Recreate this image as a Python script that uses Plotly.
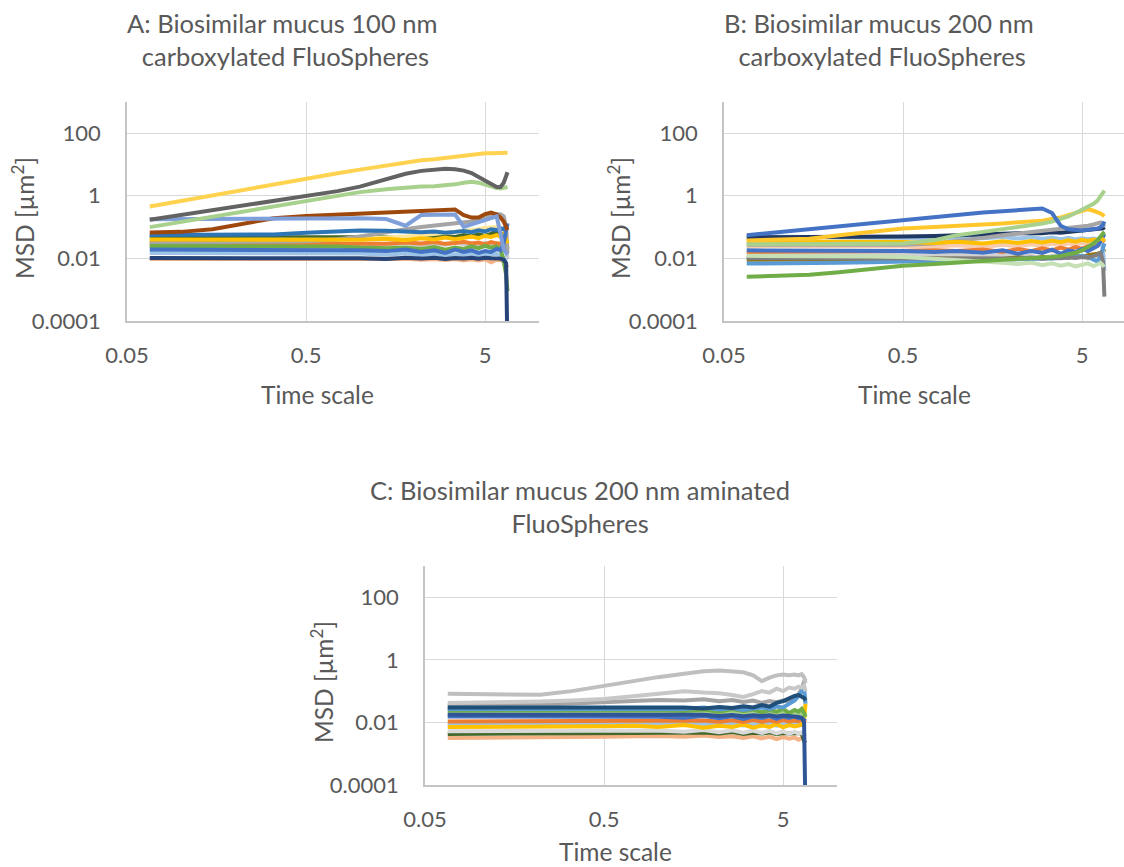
import plotly.graph_objects as go

# Lag times (s) shared by every trajectory
T = [0.067, 0.1, 0.15, 0.22, 0.33, 0.5, 0.75, 1.0, 1.4, 1.8, 2.2, 2.6,
     3.0, 3.4, 3.8, 4.2, 4.6, 5.0, 5.4, 5.8, 6.1, 6.35, 6.55, 6.67]

X_TICKS = [0.05, 0.5, 5]
X_TICK_TEXT = ["0.05", "0.5", "5"]
Y_TICKS = [0.0001, 0.01, 1, 100]
Y_TICK_TEXT = ["0.0001", "0.01", "1", "100"]

# ---- A: 100 nm carboxylated, MSD in um^2 ----
a_yellow = [0.45, 0.68, 1.05, 1.5, 2.3, 3.6, 5.2, 6.8, 9.2, 11.5, 13.5, 14.5, 16, 17.5, 19.5, 21, 22, 22.5, 22.5, 22.8, 23, 23, 23.2, 23.5]
a_darkgray = [0.17, 0.24, 0.35, 0.49, 0.70, 1.0, 1.4, 1.95, 3.4, 5.0, 6.2, 6.9, 7.2, 7.0, 6.3, 5.3, 4.0, 3.0, 2.3, 1.9, 1.9, 2.6, 4.2, 5.6]
a_lightgreen = [0.099, 0.146, 0.22, 0.31, 0.46, 0.68, 1.0, 1.3, 1.6, 1.85, 1.95, 2.0, 2.1, 2.3, 2.6, 2.8, 2.6, 2.2, 1.9, 1.75, 1.7, 1.75, 1.8, 1.9]
a_periwinkle = [0.177, 0.18, 0.18, 0.185, 0.185, 0.18, 0.19, 0.19, 0.18, 0.11, 0.24, 0.25, 0.26, 0.25, 0.1, 0.12, 0.14, 0.17, 0.2, 0.22, 0.06, 0.02, 0.015, 0.013]
a_brown = [0.067, 0.07, 0.085, 0.126, 0.19, 0.226, 0.25, 0.27, 0.29, 0.31, 0.32, 0.33, 0.35, 0.36, 0.24, 0.2, 0.2, 0.26, 0.29, 0.25, 0.2, 0.15, 0.1, 0.08]
a_steelblue = [0.056, 0.056, 0.056, 0.057, 0.058, 0.066, 0.075, 0.078, 0.076, 0.07, 0.068, 0.072, 0.066, 0.07, 0.075, 0.068, 0.078, 0.072, 0.085, 0.08, 0.09, 0.085, 0.1, 0.12]
a_gray = [0.032, 0.032, 0.033, 0.033, 0.034, 0.035, 0.04, 0.05, 0.065, 0.085, 0.1, 0.11, 0.12, 0.13, 0.14, 0.15, 0.18, 0.21, 0.24, 0.26, 0.25, 0.22, 0.1, 0.015]
a_darkgreen = [0.048, 0.048, 0.048, 0.048, 0.05, 0.05, 0.05, 0.048, 0.047, 0.045, 0.05, 0.046, 0.052, 0.048, 0.055, 0.05, 0.058, 0.052, 0.06, 0.075, 0.065, 0.05, 0.03, 0.02]
a_gold = [0.04, 0.04, 0.04, 0.04, 0.04, 0.041, 0.04, 0.039, 0.042, 0.038, 0.044, 0.04, 0.046, 0.041, 0.045, 0.05, 0.044, 0.052, 0.048, 0.055, 0.05, 0.06, 0.04, 0.03]
a_lightyellow = [0.038, 0.038, 0.038, 0.039, 0.039, 0.04, 0.04, 0.042, 0.045, 0.05, 0.055, 0.06, 0.065, 0.07, 0.075, 0.08, 0.085, 0.095, 0.1, 0.1, 0.09, 0.08, 0.06, 0.05]
a_orange = [0.031, 0.031, 0.031, 0.031, 0.031, 0.031, 0.03, 0.031, 0.029, 0.032, 0.03, 0.033, 0.029, 0.031, 0.034, 0.03, 0.032, 0.028, 0.033, 0.03, 0.03, 0.035, 0.025, 0.02]
a_lightgray = [0.026, 0.026, 0.026, 0.026, 0.027, 0.027, 0.028, 0.029, 0.027, 0.031, 0.026, 0.03, 0.027, 0.032, 0.028, 0.03, 0.026, 0.031, 0.027, 0.03, 0.028, 0.025, 0.02, 0.01]
a_green = [0.025, 0.025, 0.025, 0.025, 0.025, 0.024, 0.024, 0.022, 0.021, 0.022, 0.02, 0.023, 0.019, 0.022, 0.02, 0.024, 0.021, 0.025, 0.022, 0.024, 0.02, 0.008, 0.003, 0.0009]
a_blue = [0.019, 0.019, 0.019, 0.019, 0.019, 0.019, 0.018, 0.018, 0.017, 0.019, 0.016, 0.018, 0.015, 0.019, 0.016, 0.018, 0.015, 0.017, 0.016, 0.02, 0.018, 0.03, 0.08, 0.13]
a_skyblue = [0.0147, 0.0147, 0.0147, 0.0145, 0.0145, 0.0145, 0.014, 0.0142, 0.013, 0.0145, 0.0125, 0.014, 0.012, 0.0135, 0.0125, 0.014, 0.012, 0.0135, 0.013, 0.014, 0.012, 0.011, 0.01, 0.009]
a_peach = [0.0095, 0.0095, 0.0095, 0.0095, 0.0096, 0.0096, 0.0097, 0.0096, 0.0093, 0.0097, 0.009, 0.0096, 0.0088, 0.0095, 0.0085, 0.0093, 0.0086, 0.0094, 0.0075, 0.009, 0.0088, 0.008, 0.006, 0.005]
a_navy = [0.0102, 0.0102, 0.0102, 0.0101, 0.0099, 0.01, 0.0103, 0.0101, 0.0095, 0.0104, 0.0098, 0.0105, 0.0096, 0.0103, 0.0099, 0.0104, 0.0097, 0.0105, 0.01, 0.0103, 0.0098, 0.009, 0.007, 0.00001]

# ---- B: 200 nm carboxylated ----
b_blue = [0.055, 0.069, 0.087, 0.107, 0.135, 0.17, 0.21, 0.24, 0.29, 0.32, 0.34, 0.36, 0.39, 0.28, 0.11, 0.085, 0.08, 0.078, 0.082, 0.085, 0.09, 0.1, 0.12, 0.15]
b_yellow = [0.037, 0.038, 0.042, 0.055, 0.072, 0.09, 0.1, 0.112, 0.12, 0.13, 0.14, 0.15, 0.16, 0.18, 0.2, 0.24, 0.28, 0.32, 0.37, 0.33, 0.3, 0.27, 0.24, 0.22]
b_lightgreen = [0.028, 0.028, 0.028, 0.028, 0.029, 0.03, 0.038, 0.055, 0.07, 0.085, 0.1, 0.115, 0.13, 0.15, 0.18, 0.22, 0.28, 0.35, 0.45, 0.55, 0.7, 0.95, 1.25, 1.45]
b_navy = [0.047, 0.047, 0.047, 0.047, 0.048, 0.05, 0.052, 0.055, 0.058, 0.062, 0.06, 0.065, 0.063, 0.068, 0.066, 0.07, 0.072, 0.075, 0.078, 0.08, 0.082, 0.085, 0.09, 0.1]
b_skyblue = [0.05, 0.05, 0.048, 0.046, 0.045, 0.045, 0.045, 0.046, 0.044, 0.048, 0.043, 0.047, 0.042, 0.046, 0.041, 0.045, 0.04, 0.044, 0.041, 0.043, 0.04, 0.035, 0.02, 0.004]
b_gray = [0.027, 0.027, 0.027, 0.026, 0.026, 0.027, 0.03, 0.035, 0.045, 0.055, 0.062, 0.07, 0.075, 0.08, 0.085, 0.09, 0.095, 0.1, 0.11, 0.12, 0.13, 0.14, 0.12, 0.1]
b_gold = [0.035, 0.035, 0.035, 0.034, 0.034, 0.033, 0.031, 0.034, 0.03, 0.035, 0.031, 0.036, 0.032, 0.037, 0.033, 0.038, 0.034, 0.039, 0.036, 0.04, 0.038, 0.045, 0.04, 0.035]
b_peach = [0.025, 0.025, 0.025, 0.025, 0.025, 0.025, 0.024, 0.026, 0.023, 0.027, 0.024, 0.028, 0.025, 0.029, 0.026, 0.03, 0.027, 0.031, 0.028, 0.03, 0.029, 0.03, 0.028, 0.03]
b_blue2 = [0.018, 0.018, 0.018, 0.018, 0.017, 0.017, 0.016, 0.017, 0.015, 0.018, 0.014, 0.017, 0.015, 0.019, 0.014, 0.018, 0.016, 0.02, 0.017, 0.022, 0.025, 0.035, 0.05, 0.06]
b_orange = [0.016, 0.016, 0.016, 0.016, 0.016, 0.017, 0.018, 0.017, 0.019, 0.016, 0.02, 0.017, 0.021, 0.018, 0.022, 0.019, 0.023, 0.02, 0.024, 0.022, 0.025, 0.03, 0.035, 0.04]
b_lightgray = [0.013, 0.013, 0.013, 0.013, 0.013, 0.013, 0.012, 0.013, 0.011, 0.013, 0.011, 0.012, 0.01, 0.012, 0.011, 0.013, 0.011, 0.012, 0.01, 0.012, 0.011, 0.013, 0.012, 0.01]
b_palegreen = [0.012, 0.012, 0.012, 0.0118, 0.0115, 0.011, 0.0098, 0.009, 0.0078, 0.0072, 0.0066, 0.0073, 0.006, 0.0069, 0.0058, 0.0066, 0.0055, 0.0062, 0.0069, 0.0057, 0.0063, 0.0071, 0.006, 0.0065]
b_darkgray = [0.01, 0.01, 0.01, 0.01, 0.01, 0.01, 0.0098, 0.0102, 0.0097, 0.0104, 0.0099, 0.0106, 0.0098, 0.0105, 0.01, 0.0108, 0.0102, 0.011, 0.0105, 0.012, 0.013, 0.015, 0.008, 0.0006]
b_olive = [0.009, 0.009, 0.009, 0.0092, 0.0094, 0.0095, 0.0098, 0.0097, 0.0102, 0.0095, 0.0108, 0.0098, 0.011, 0.01, 0.0115, 0.0105, 0.012, 0.011, 0.0125, 0.013, 0.014, 0.015, 0.016, 0.02]
b_midblue = [0.0068, 0.0068, 0.007, 0.0072, 0.0075, 0.0078, 0.008, 0.0082, 0.0085, 0.0088, 0.009, 0.0092, 0.0095, 0.0098, 0.0102, 0.0105, 0.011, 0.012, 0.011, 0.009, 0.008, 0.012, 0.02, 0.03]
b_green = [0.0026, 0.0028, 0.003, 0.0036, 0.0046, 0.0058, 0.0066, 0.0075, 0.0083, 0.009, 0.0095, 0.0098, 0.0102, 0.011, 0.012, 0.013, 0.015, 0.018, 0.023, 0.03, 0.038, 0.048, 0.06, 0.07]

# ---- C: 200 nm aminated ----
c_lightgray1 = [0.082, 0.08, 0.078, 0.077, 0.1, 0.15, 0.22, 0.28, 0.36, 0.43, 0.46, 0.44, 0.4, 0.32, 0.21, 0.27, 0.32, 0.34, 0.32, 0.34, 0.32, 0.35, 0.28, 0.18]
c_lightgray2 = [0.042, 0.043, 0.045, 0.047, 0.05, 0.056, 0.07, 0.085, 0.1, 0.09, 0.085, 0.075, 0.065, 0.08, 0.1, 0.09, 0.12, 0.1, 0.13, 0.12, 0.14, 0.13, 0.15, 0.1]
c_gray = [0.035, 0.035, 0.036, 0.037, 0.04, 0.045, 0.05, 0.052, 0.05, 0.055, 0.048, 0.052, 0.045, 0.05, 0.042, 0.048, 0.044, 0.05, 0.046, 0.06, 0.08, 0.12, 0.2, 0.25]
c_darkblue = [0.03, 0.03, 0.03, 0.03, 0.031, 0.031, 0.03, 0.029, 0.03, 0.028, 0.031, 0.029, 0.033, 0.03, 0.036, 0.032, 0.042, 0.048, 0.06, 0.07, 0.075, 0.065, 0.06, 0.05]
c_midblue = [0.027, 0.027, 0.027, 0.027, 0.027, 0.028, 0.028, 0.029, 0.027, 0.03, 0.026, 0.029, 0.025, 0.028, 0.03, 0.027, 0.032, 0.03, 0.038, 0.05, 0.07, 0.1, 0.13, 0.04]
c_green = [0.024, 0.024, 0.024, 0.024, 0.024, 0.025, 0.024, 0.025, 0.023, 0.026, 0.022, 0.027, 0.023, 0.026, 0.021, 0.025, 0.022, 0.027, 0.02, 0.025, 0.022, 0.027, 0.02, 0.015]
c_lightgreen = [0.019, 0.019, 0.019, 0.019, 0.019, 0.019, 0.019, 0.02, 0.018, 0.02, 0.018, 0.021, 0.018, 0.02, 0.017, 0.02, 0.018, 0.02, 0.017, 0.019, 0.018, 0.02, 0.017, 0.018]
c_navy = [0.0175, 0.0175, 0.0175, 0.0175, 0.0175, 0.0175, 0.017, 0.0172, 0.0165, 0.0175, 0.016, 0.0172, 0.0158, 0.017, 0.016, 0.0168, 0.0155, 0.0165, 0.016, 0.016, 0.015, 0.014, 0.01, 0.00001]
c_blue = [0.0155, 0.0155, 0.0155, 0.0155, 0.0155, 0.0155, 0.015, 0.0152, 0.014, 0.016, 0.0135, 0.0158, 0.013, 0.0155, 0.0138, 0.016, 0.013, 0.0155, 0.014, 0.016, 0.0135, 0.015, 0.012, 0.011]
c_orange = [0.0107, 0.0107, 0.0107, 0.0108, 0.0108, 0.011, 0.011, 0.0112, 0.0108, 0.0115, 0.0105, 0.0118, 0.0104, 0.012, 0.0106, 0.0118, 0.0105, 0.012, 0.0108, 0.0115, 0.011, 0.012, 0.011, 0.01]
c_skyblue = [0.0084, 0.0084, 0.0084, 0.0084, 0.0085, 0.0085, 0.0086, 0.0087, 0.0083, 0.0089, 0.0081, 0.009, 0.008, 0.0088, 0.0082, 0.009, 0.0079, 0.0088, 0.0082, 0.0087, 0.008, 0.0085, 0.0078, 0.008]
c_gold = [0.0072, 0.0072, 0.0072, 0.0072, 0.0073, 0.0075, 0.0078, 0.0072, 0.0082, 0.0068, 0.0078, 0.0072, 0.0085, 0.0068, 0.008, 0.0072, 0.0088, 0.007, 0.0082, 0.0075, 0.008, 0.0085, 0.012, 0.04]
c_silver = [0.0052, 0.0052, 0.0052, 0.0052, 0.0053, 0.0053, 0.0054, 0.0055, 0.005, 0.0057, 0.0049, 0.0056, 0.0047, 0.0055, 0.0046, 0.0054, 0.0045, 0.0052, 0.0044, 0.005, 0.0045, 0.0048, 0.004, 0.0035]
c_darkgreen = [0.0043, 0.0043, 0.0044, 0.0044, 0.0045, 0.0045, 0.0046, 0.0047, 0.0046, 0.0048, 0.0044, 0.0049, 0.0043, 0.0047, 0.0044, 0.0048, 0.0042, 0.0046, 0.0044, 0.0045, 0.0043, 0.0046, 0.0025, 0.0022]
c_peach = [0.0032, 0.0032, 0.0033, 0.0033, 0.0034, 0.0035, 0.0036, 0.0037, 0.0035, 0.0038, 0.0034, 0.0036, 0.0032, 0.0036, 0.0031, 0.0035, 0.0029, 0.0034, 0.003, 0.0033, 0.0028, 0.0032, 0.003, 0.003]

# (series, colour) in drawing order for each panel
panel_a = [
    (a_peach, "#F4B183"), (a_skyblue, "#9DC3E6"), (a_lightgray, "#C9C9C9"),
    (a_orange, "#ED7D31"), (a_darkgreen, "#43682B"), (a_lightyellow, "#FFE699"),
    (a_gray, "#A5A5A5"), (a_gold, "#FFC000"), (a_steelblue, "#2E75B6"),
    (a_green, "#70AD47"), (a_blue, "#4472C4"), (a_navy, "#264478"),
    (a_brown, "#9E480E"), (a_periwinkle, "#7F9FDB"), (a_lightgreen, "#A9D18E"),
    (a_darkgray, "#636363"), (a_yellow, "#FFD24F"),
]
panel_b = [
    (b_peach, "#F8CBAD"), (b_lightgray, "#D0D0D0"), (b_olive, "#997300"),
    (b_orange, "#ED7D31"), (b_skyblue, "#9DC3E6"), (b_navy, "#1F3864"),
    (b_gray, "#A5A5A5"), (b_midblue, "#5B9BD5"), (b_blue2, "#4472C4"),
    (b_gold, "#FFC000"), (b_darkgray, "#7F7F7F"), (b_palegreen, "#C5E0B4"),
    (b_yellow, "#FFC72C"), (b_lightgreen, "#A9D18E"), (b_blue, "#4472C4"),
    (b_green, "#70AD47"),
]
panel_c = [
    (c_peach, "#F4B183"), (c_darkgreen, "#43682B"), (c_silver, "#D9D9D9"),
    (c_skyblue, "#9DC3E6"), (c_gold, "#FFC000"), (c_orange, "#ED7D31"),
    (c_blue, "#4472C4"), (c_lightgreen, "#A9D18E"), (c_gray, "#A5A5A5"),
    (c_green, "#70AD47"), (c_midblue, "#5B9BD5"), (c_darkblue, "#1F4E79"),
    (c_lightgray2, "#C8C8C8"), (c_lightgray1, "#BFBFBF"), (c_navy, "#2F5597"),
]

W, H = 1124, 867
FONT = "Lato"
TXT = "#595959"


def px(x):
    return x / W


def py(y):
    return 1 - y / H


fig = go.Figure()
for idx, series in enumerate([panel_a, panel_b, panel_c], start=1):
    suffix = "" if idx == 1 else str(idx)
    for values, colour in series:
        fig.add_trace(go.Scatter(
            x=T, y=values, mode="lines",
            line=dict(color=colour, width=4),
            xaxis="x" + suffix, yaxis="y" + suffix,
            showlegend=False, hoverinfo="skip",
        ))

tick_font = dict(family=FONT, size=22, color=TXT)


def x_axis(domain, rmax, anchor):
    return dict(
        type="log", domain=domain, range=[-1.30103, rmax], anchor=anchor,
        tickvals=X_TICKS, ticktext=X_TICK_TEXT, tickfont=tick_font,
        showgrid=True, gridcolor="#D9D9D9", gridwidth=1.3,
        showline=True, linecolor="#C4C4C4", linewidth=1.5,
        zeroline=False, ticks="", ticklabelstandoff=14, automargin=False,
    )


def y_axis(domain, anchor):
    return dict(
        type="log", domain=domain, range=[-4, 3], anchor=anchor,
        tickvals=Y_TICKS, ticktext=Y_TICK_TEXT, tickfont=tick_font,
        showgrid=True, gridcolor="#D9D9D9", gridwidth=1.3,
        showline=True, linecolor="#C4C4C4", linewidth=1.5,
        zeroline=False, ticks="", ticklabelstandoff=20, automargin=False,
    )


fig.update_layout(
    width=W, height=H,
    margin=dict(l=0, r=0, t=0, b=0, autoexpand=False),
    paper_bgcolor="white", plot_bgcolor="white",
    xaxis=x_axis([px(127), px(539)], 1.0, "y"),
    yaxis=y_axis([py(321), py(101.7)], "x"),
    xaxis2=x_axis([px(724), 1.0], 0.9336, "y2"),
    yaxis2=y_axis([py(321), py(101.7)], "x2"),
    xaxis3=x_axis([px(425), px(837)], 1.0, "y3"),
    yaxis3=y_axis([py(785), py(566)], "x3"),
)

title_font = dict(family=FONT, size=25.5, color=TXT)
label_font = dict(family=FONT, size=24.5, color=TXT)

annotations = [
    (282, 40, "A: Biosimilar mucus 100 nm<br> carboxylated FluoSpheres", title_font, 0),
    (879, 40, "B: Biosimilar mucus 200 nm<br> carboxylated FluoSpheres", title_font, 0),
    (580, 506, "C: Biosimilar mucus 200 nm aminated<br>FluoSpheres", title_font, 0),
    (317, 395, "Time scale", label_font, 0),
    (914, 395, "Time scale", label_font, 0),
    (615, 851, "Time scale", label_font, 0),
    (23, 218, "MSD [µm<sup>2</sup>]", label_font, -90),
    (619, 218, "MSD [µm<sup>2</sup>]", label_font, -90),
    (322, 682, "MSD [µm<sup>2</sup>]", label_font, -90),
]
for x, y, text, font, angle in annotations:
    fig.add_annotation(
        x=px(x), y=py(y), xref="paper", yref="paper",
        text=text, showarrow=False, font=font, textangle=angle,
        xanchor="center", yanchor="middle", align="center",
    )

fig.write_html("out.html")
